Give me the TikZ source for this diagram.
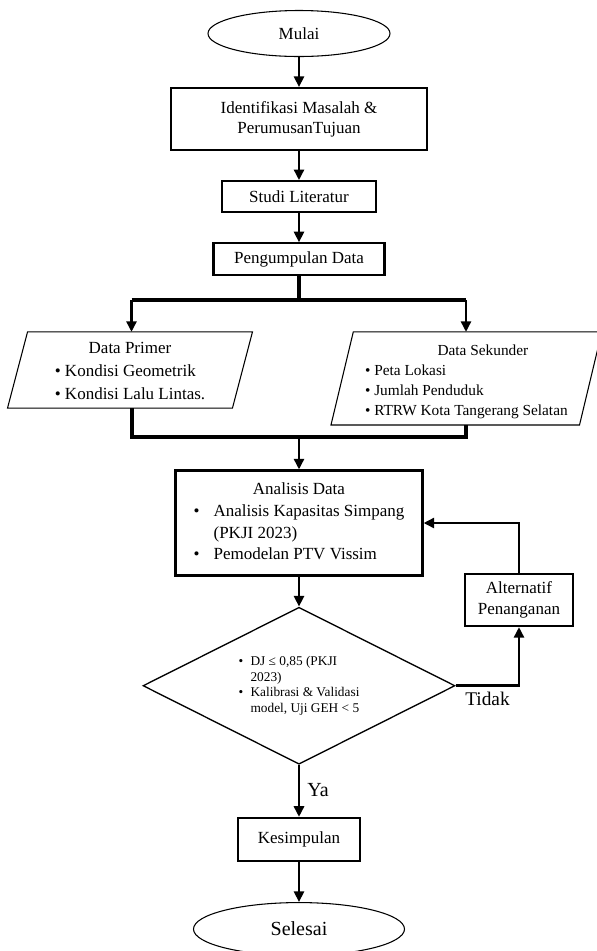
\documentclass[tikz,border=0pt]{standalone}
\usepackage{fontspec}
\setmainfont{Liberation Serif}
\usetikzlibrary{shapes.geometric, positioning, arrows.meta}

\newdimen\px \px=0.75pt
\newcommand{\ukuran}[2]{\fontsize{#1}{#2}\selectfont}

\begin{document}
\begin{tikzpicture}[x=0.75pt, y=-0.75pt,
  font=\ukuran{12.75}{15.3},
  terminal/.style={draw, ellipse, line width=0.8pt},
  proses/.style={draw, rectangle, line width=1.6pt, align=center, inner sep=2pt},
  masukan/.style={rectangle, inner sep=0pt},
  garismasukan/.style={line width=0.8pt},
  putusan/.style={draw, diamond, line width=1pt, inner sep=2pt},
  arus/.style={line width=2pt, -{Triangle[width=7.5pt, length=8pt]}},
  bus/.style={line width=3pt}]
  \useasboundingbox (0,0) rectangle (597,951);

  \node[terminal, minimum width=182\px, minimum height=46\px] (mulai) at (299,33.5) {Mulai};
  \node[proses, minimum width=256\px, minimum height=62\px, below=30\px of mulai] (ident)
    {Identifikasi Masalah \&\\PerumusanTujuan};
  \node[proses, minimum width=154\px, minimum height=31\px, below=29\px of ident] (studi) {Studi Literatur};
  \node[proses, minimum width=171\px, minimum height=32\px, below=29\px of studi] (kumpul) {Pengumpulan Data};

  % data primer dan sekunder (jajaran genjang)
  \node[masukan, minimum width=224.4\px, minimum height=75.6\px,
    below=55.5\px of kumpul, xshift=-169\px, font=\ukuran{12.75}{17}] (primer)
    {\raisebox{-2\px}[\height][\depth]{\begin{tabular}{@{}l@{}}
       \multicolumn{1}{@{}c@{}}{Data Primer}\\
       \textbullet\ Kondisi Geometrik\\
       \textbullet\ Kondisi Lalu Lintas.
     \end{tabular}}};
  \draw[garismasukan] ([xshift=10\px]primer.north west) -- ([xshift=10\px]primer.north east)
    -- ([xshift=-10\px]primer.south east) -- ([xshift=-10\px]primer.south west) -- cycle;

  \node[masukan, minimum width=248\px, minimum height=92.5\px,
    below=55.5\px of kumpul, xshift=167.4\px, font=\ukuran{11.5}{15}] (sekunder)
    {\raisebox{-3\px}[\height][\depth]{\begin{tabular}{@{}l@{}}
       \multicolumn{1}{@{}c@{}}{\hspace*{33\px}Data Sekunder}\\
       \textbullet\ Peta Lokasi\\
       \textbullet\ Jumlah Penduduk\\
       \textbullet\ RTRW Kota Tangerang Selatan
     \end{tabular}}};
  \draw[garismasukan] ([xshift=11.15\px]sekunder.north west) -- ([xshift=11.15\px]sekunder.north east)
    -- ([xshift=-11.15\px]sekunder.south east) -- ([xshift=-11.15\px]sekunder.south west) -- cycle;

  \node[proses, minimum width=247\px, minimum height=105\px, below=193\px of kumpul,
    font=\ukuran{12.75}{16.3}] (analisis)
    {\begin{tabular}{@{}p{20\px}@{}l@{}}
       \multicolumn{2}{@{}c@{}}{Analisis Data}\\
       \textbullet & Analisis Kapasitas Simpang\\
                   & (PKJI 2023)\\
       \textbullet & Pemodelan PTV Vissim
     \end{tabular}};

  % keputusan
  \node[putusan, minimum width=312\px, minimum height=157\px, below=30\px of analisis] (cek) {};
  \node[font=\ukuran{10}{11.6}] (cekteks) at (cek.center)
    {\begin{tabular}{@{}p{12\px}@{}l@{}}
       \textbullet & DJ ≤ 0,85 (PKJI\\
                   & 2023)\\
       \textbullet & Kalibrasi \& Validasi\\
                   & model, Uji GEH < 5
     \end{tabular}};

  \node[proses, minimum width=108\px, minimum height=52\px] (alt) at (519,600)
    {Alternatif\\Penanganan};
  \node[proses, minimum width=122\px, minimum height=43\px, below=52\px of cek] (kesimpulan) {Kesimpulan};
  \node[terminal, minimum width=211\px, minimum height=53\px, below=40\px of kesimpulan,
    font=\ukuran{15}{18}] (selesai) {Selesai};

  \node[font=\ukuran{14.5}{17}] (tidak) at (487.5,699) {Tidak};
  \node[font=\ukuran{15}{18}] (ya) at (318,790.5) {Ya};

  % titik bantu percabangan
  \coordinate[below=24\px of kumpul] (pisah);
  \coordinate[left=167.5\px of pisah] (pisahL);
  \coordinate[right=167\px of pisah] (pisahR);
  \coordinate[above=32.5\px of analisis] (gabung);

  \draw[arus] (mulai) -- (ident);
  \draw[arus] (ident) -- (studi);
  \draw[arus] (studi) -- (kumpul);
  \draw[bus] (kumpul) -- (pisah);
  \draw[bus] (pisahL) -- (pisahR);
  \draw[arus] (pisahL) -- (pisahL |- primer.north);
  \draw[arus] (pisahR) -- (pisahR |- sekunder.north);
  \draw[bus] (pisahL |- primer.south) -- (pisahL |- gabung) -- (pisahR |- gabung) -- (pisahR |- sekunder.south);
  \draw[arus] (gabung) -- (analisis);
  \draw[arus] (analisis) -- (cek);
  \draw[arus] (cek) -- (kesimpulan);
  \draw[arus] (kesimpulan) -- (selesai);
  \draw[arus] (cek.east) -| (alt);
  \draw[arus] (alt) |- (analisis.east);
\end{tikzpicture}
\end{document}
